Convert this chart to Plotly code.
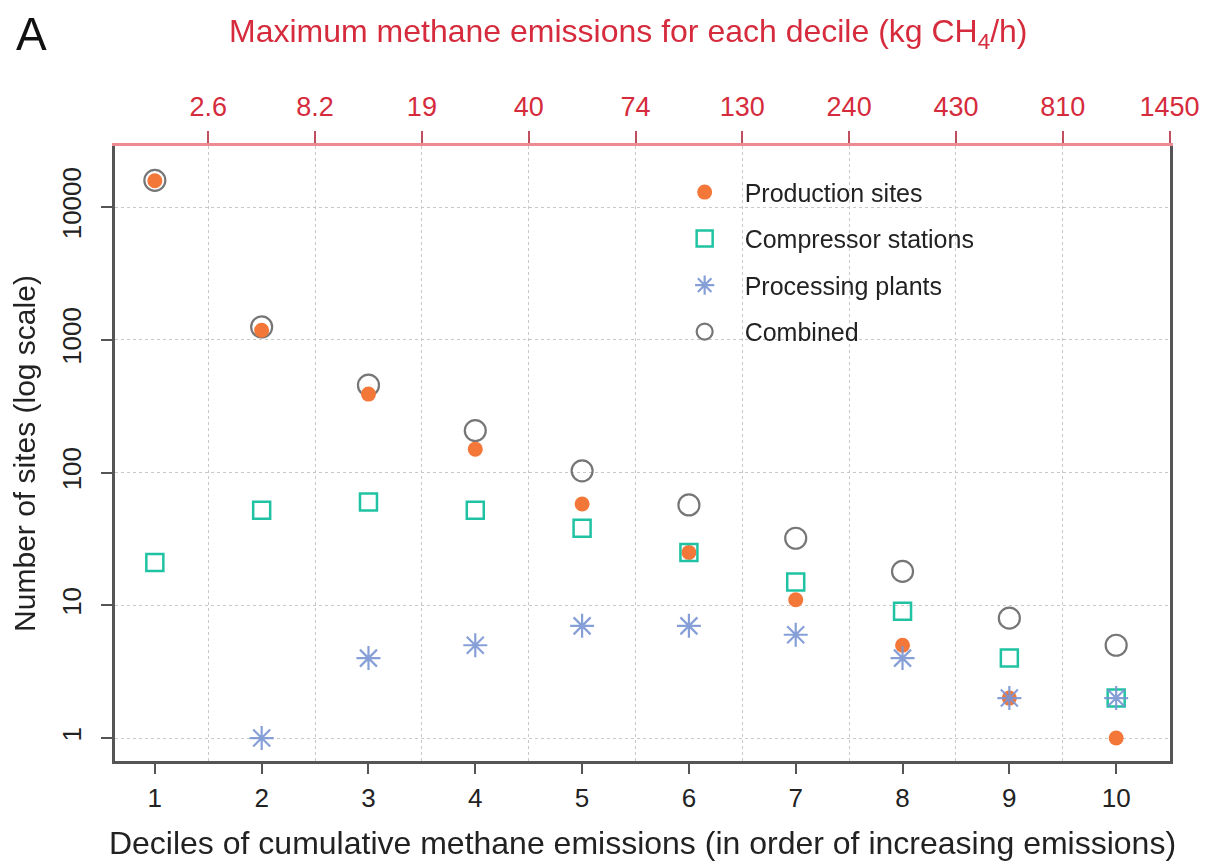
import plotly.graph_objects as go

deciles = [1, 2, 3, 4, 5, 6, 7, 8, 9, 10]
production = [15800, 1180, 390, 150, 58, 25, 11, 5, 2, 1]
compressor = [21, 52, 60, 52, 38, 25, 15, 9, 4, 2]
processing_x = [2, 3, 4, 5, 6, 7, 8, 9, 10]
processing = [1, 4, 5, 7, 7, 6, 4, 2, 2]
combined = [15900, 1250, 455, 207, 103, 57, 32, 18, 8, 5]

top_tick_pos = [1.5, 2.5, 3.5, 4.5, 5.5, 6.5, 7.5, 8.5, 9.5, 10.5]
top_tick_labels = ["2.6", "8.2", "19", "40", "74", "130", "240", "430", "810", "1450"]
y_ticks = [1, 10, 100, 1000, 10000]

FONT = "Liberation Sans, Arial, sans-serif"
ORANGE = "#F4773A"
TEAL = "#1FC3A3"
BLUE = "#7A95D3"
GRAY = "#767676"
RED = "#D52B3C"

fig = go.Figure()

fig.add_trace(go.Scatter(
    x=deciles, y=combined, mode="markers", name="Combined",
    marker=dict(symbol="circle-open", size=21, color=GRAY, line=dict(width=2.2, color=GRAY)),
    legendgroup="d", legendrank=4))
fig.add_trace(go.Scatter(
    x=deciles, y=production, mode="markers", name="Production sites",
    marker=dict(symbol="circle", size=15, color=ORANGE, line=dict(width=0)),
    legendgroup="a", legendrank=1))
fig.add_trace(go.Scatter(
    x=deciles, y=compressor, mode="markers", name="Compressor stations",
    marker=dict(symbol="square-open", size=17, color=TEAL, line=dict(width=2.5, color=TEAL)),
    legendgroup="b", legendrank=2))
fig.add_trace(go.Scatter(
    x=processing_x, y=processing, mode="markers", name="Processing plants",
    marker=dict(symbol="asterisk-open", size=20, color=BLUE, line=dict(width=2.2, color=BLUE)),
    opacity=0.9, legendgroup="c", legendrank=3))
# invisible trace to activate the top axis
fig.add_trace(go.Scatter(
    x=[1, 10], y=[1, 1], xaxis="x2", yaxis="y", mode="markers",
    marker=dict(opacity=0), showlegend=False, hoverinfo="skip"))

fig.update_layout(
    width=1214, height=862,
    margin=dict(l=104, r=52, t=138, b=109),
    paper_bgcolor="white", plot_bgcolor="white",
    font=dict(family=FONT, size=26, color="#222222"),
    showlegend=True,
    legend=dict(
        x=0.521, y=0.962, xanchor="left", yanchor="top",
        bgcolor="rgba(0,0,0,0)", font=dict(size=25, color="#222222"),
        traceorder="grouped", tracegroupgap=11, itemwidth=70,
    ),
    xaxis=dict(
        range=[0.627, 10.504], tickvals=deciles, ticktext=[str(d) for d in deciles],
        showgrid=False, zeroline=False,
        showline=True, linecolor="#555555", linewidth=2.5,
        ticks="outside", ticklen=10, tickwidth=1.5, tickcolor="#555555",
        tickfont=dict(size=26, color="#222222"), ticklabelstandoff=2,
        title=dict(text="Deciles of cumulative methane emissions (in order of increasing emissions)",
                   font=dict(size=32, color="#222222"), standoff=20),
    ),
    xaxis2=dict(
        overlaying="x", side="top", anchor="y",
        range=[0.627, 10.504], tickvals=top_tick_pos, ticktext=top_tick_labels,
        showgrid=True, gridcolor="#C8C8C8", griddash="dot", gridwidth=1.2,
        zeroline=False,
        showline=True, linecolor="#F08A92", linewidth=2.5,
        ticks="outside", ticklen=12, tickwidth=1.5, tickcolor="#C05060",
        tickfont=dict(size=27, color=RED), ticklabelstandoff=4,
    ),
    yaxis=dict(
        type="log", range=[-0.173, 4.46], tickvals=y_ticks, ticktext=[str(v) for v in y_ticks],
        tickangle=-90,
        showgrid=True, gridcolor="#C8C8C8", griddash="dot", gridwidth=1.2,
        zeroline=False,
        showline=True, linecolor="#555555", linewidth=2.5, mirror=True,
        ticks="outside", ticklen=11, tickwidth=1.5, tickcolor="#555555",
        tickfont=dict(size=26, color="#222222"), ticklabelstandoff=10,
        title=dict(text="Number of sites (log scale)", font=dict(size=30, color="#222222"), standoff=16),
    ),
    annotations=[
        dict(text="A", x=-(104 - 20) / 1058, y=1 + (138 - 26) / 615, xref="paper", yref="paper",
             showarrow=False, xanchor="center", yanchor="middle",
             font=dict(size=46, color="#111111", family=FONT)),
        dict(text="Maximum methane emissions for each decile (kg CH<sub>4</sub>/h)",
             x=(627 - 112) / 1058, y=1 + (138 - 26) / 615, xref="paper", yref="paper", showarrow=False,
             xanchor="center", yanchor="middle",
             font=dict(size=32, color=RED, family=FONT)),
    ],
)

fig.write_html("out.html")
